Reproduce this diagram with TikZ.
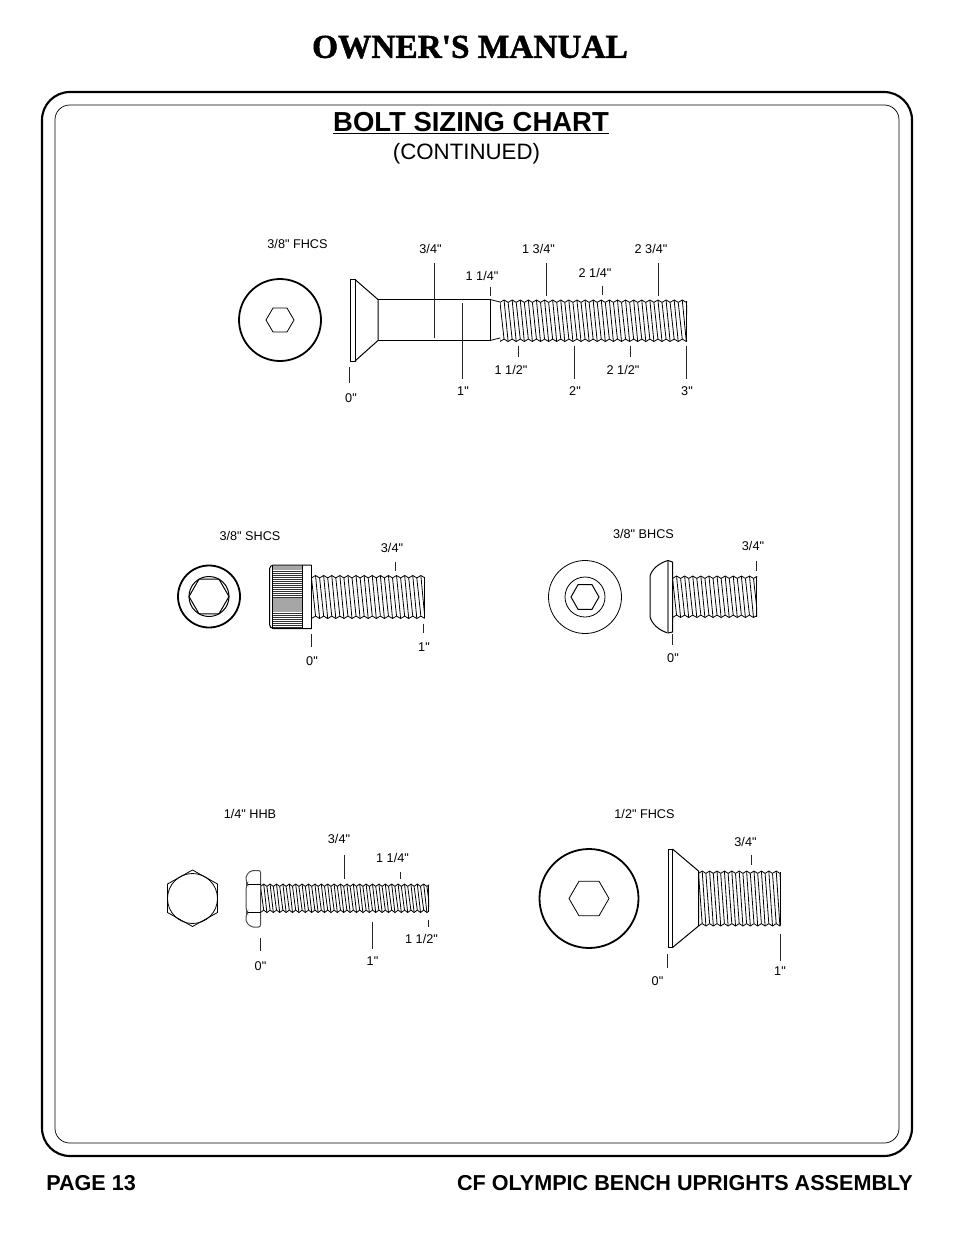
\documentclass[tikz,border=0pt]{standalone}
\usepackage{fontspec}
\setmainfont{Liberation Sans}[Ligatures=TeXOff]
\newfontfamily\ownerfont{Liberation Serif}[Ligatures=TeXOff,FakeBold=1.4,UprightFont={* Bold}]
\usetikzlibrary{calc,positioning}
\tikzset{lbl/.style={inner sep=0pt, text=black, yshift=-0.4pt, font=\fontsize{9.5}{11}\selectfont}, tick/.style={line width=0.8pt, black!85}, part/.style={line width=0.75pt, black}, rim/.style={line width=1.35pt, black}, thin part/.style={line width=0.6pt, black}, heading/.style={inner sep=0pt, text=black}}
% name, x, from y, to y, label x, label y, label
\newcommand{\gauge}[7]{
    \node[lbl] (#1) at (#5,#6) {#7};
    \coordinate (#1a) at (#2,#3);
    \coordinate (#1b) at (#2,#4);
    \draw[tick] (#1a) -- (#1b);
}
% centre x, centre y, half width, half height
\newcommand{\hexhole}[5][thin part]{
    \draw[#1] ({#2+#4},#3) -- ({#2+#4/2},{#3-#5}) -- ({#2-#4/2},{#3-#5}) -- ({#2-#4},#3) -- ({#2-#4/2},{#3+#5}) -- ({#2+#4/2},{#3+#5}) -- cycle;
}
% from x, to x, top y, bottom y, pitch
\newcommand{\threads}[5]{
    \begin{scope}
        \clip (#1,#3-1) rectangle (#2+0.5,#4+1);
        \pgfmathtruncatemacro{\threadn}{(#2-#1)/#5+1}
        \foreach \k in {-1,...,\threadn}{
            \pgfmathsetmacro{\xa}{#1+\k*#5}
            \pgfmathsetmacro{\xm}{\xa+#5/2}
            \pgfmathsetmacro{\xb}{\xa+#5}
            \pgfmathsetmacro{\xc}{\xb+#5/2}
            \draw[thin part,line join=round] (\xa,#3+2.4) -- (\xm,#3) -- (\xb,#3+2.4);
            \draw[thin part,line join=round] (\xm,#4-2.4) -- (\xb,#4) -- (\xc,#4-2.4);
            \draw[thin part] (\xm,#3) -- (\xb,#4);
            \draw[thin part] (\xb,#3+2.4) -- (\xc,#4-2.4);
        }
    \end{scope}
    \draw[thin part] (#2,#3+1) -- (#2,#4-1);
}

\begin{document}
\begin{tikzpicture}[x=0.75pt,y=-0.75pt]
    \useasboundingbox (0,0) rectangle (954,1235);
    % page furniture
    \node[heading,font=\ownerfont\fontsize{25}{28}\selectfont] (manual) at (470,47) {OWNER'S MANUAL};
    \draw[line width=1.6pt, rounded corners=21pt] (42,92) rectangle (912,1156);
    \draw[line width=0.55pt, rounded corners=11pt] (55,105) rectangle (899,1143);
    \node[heading,font=\bfseries\fontsize{20.6}{24}\selectfont] (chart) at (471,123.5) {\underline{BOLT SIZING CHART}};
    \node[heading,font=\fontsize{16.7}{20}\selectfont] (cont) at (466.5,154) {(CONTINUED)};
    \node[heading,font=\bfseries\fontsize{16.2}{19}\selectfont,anchor=west] (page) at (46,1183.5) {PAGE 13};
    \node[heading,font=\bfseries\fontsize{16.2}{19}\selectfont,anchor=east] (assy) at (913,1183.5) {CF OLYMPIC BENCH UPRIGHTS ASSEMBLY};

    % 3/8 FHCS
    \node[lbl] (fhcsA) at (297.5,243.5) {3/8" FHCS};
    \draw[rim] (280,320) circle (41);
    \hexhole{280}{320}{14}{12}
    \threads{500}{686.5}{300}{341.5}{8.1}
    \draw[part] (350,279.5) rectangle (355,361);
    \draw[part] (355,279.5) -- (378,299.5) -- (378,340.5) -- (355,361);
    \draw[part] (378,299.5) -- (490,299.5) -- (490,340.5) -- (378,340.5);
    \draw[thin part] (490,299.5) -- (500,302) (490,340.5) -- (500,338);
    \gauge{fa}{349.5}{367}{382.5}{351}{398}{0"}
    \gauge{fb}{434.5}{263}{338}{430.5}{248.5}{3/4"}
    \gauge{fc}{462.5}{303}{379}{463}{391}{1"}
    \gauge{fd}{490.5}{286.5}{296}{482}{275.5}{1 1/4"}
    \gauge{fe}{518.5}{346}{357}{511}{369}{1 1/2"}
    \gauge{ff}{546.5}{263}{295.5}{538.5}{248.5}{1 3/4"}
    \gauge{fg}{574.5}{346}{379}{575}{391}{2"}
    \gauge{fh}{602.5}{285.5}{295}{595}{272.5}{2 1/4"}
    \gauge{fi}{630.5}{346}{357}{623}{369}{2 1/2"}
    \gauge{fj}{658.5}{263}{295.5}{651}{248.5}{2 3/4"}
    \gauge{fk}{686.5}{346}{379}{687}{391}{3"}

    % 3/8 SHCS
    \node[lbl] (shcs) at (250,535.5) {3/8" SHCS};
    \draw[rim] (209,596.5) circle (31);
    \draw[part] (209,596.5) circle (20);
    \hexhole[part]{209}{596.5}{20}{17.3}
    \threads{311.5}{424}{575.5}{618.5}{8.1}
    \fill[black!35] (272,566) rectangle (302,570);
    \fill[black!35] (272,598) rectangle (302,612);
    \foreach \ky in {571,573,...,597}{\draw[line width=0.45pt, black!80] (272,\ky) -- (302,\ky);}
    \foreach \ky in {613,615,...,627}{\draw[line width=0.45pt, black!80] (272,\ky) -- (302,\ky);}
    \draw[part,rounded corners=3pt] (311.5,565) -- (269.5,565) -- (269.5,628.5) -- (311.5,628.5);
    \draw[part] (311.5,565) -- (311.5,628.5);
    \draw[thin part] (272,565) -- (272,628.5) (302,565) -- (302,628.5);
    \gauge{sa}{311.5}{634}{647}{312}{660.5}{0"}
    \gauge{sb}{395.5}{561.5}{570.5}{392}{547.5}{3/4"}
    \gauge{sc}{423.5}{623.5}{632.5}{424}{646.5}{1"}

    % 3/8 BHCS
    \node[lbl] (bhcs) at (643.5,533.5) {3/8" BHCS};
    \draw[thin part] (585,597) circle (36.5);
    \draw[thin part] (585,597) circle (20);
    \hexhole[part]{585}{597}{14}{12.3}
    \threads{672.5}{756.5}{576}{617.5}{8.1}
    \draw[part] (668,560.5) .. controls (659,563) and (652,569) .. (650,576) -- (650,617) .. controls (652,624) and (659,630.5) .. (668,633);
    \draw[line width=1pt, black!50] (668,560.5) -- (668,633);
    \draw[part] (668,560.5) -- (672.5,562) -- (672.5,632) -- (668,633);
    \gauge{ba}{672.5}{634}{645}{673}{657.5}{0"}
    \gauge{bb}{756.5}{560.5}{570.5}{753}{545.5}{3/4"}

    % 1/4 HHB
    \node[lbl] (hhb) at (250,813.5) {1/4" HHB};
    \draw[thin part] (192.5,898.5) circle (25);
    \draw[thin part] (192.5,870) -- (217.5,884) -- (217.5,912.5) -- (192.5,926.5) -- (167.5,912.5) -- (167.5,884) -- cycle;
    \threads{260.5}{428.5}{884}{912.5}{6.4}
    \draw[part,black!70,rounded corners=1.5pt] (260.5,870.5) -- (251,870.5) -- (246,875.5) -- (246,881) -- (247.5,884) -- (246,887) -- (246,909.5) -- (247.5,912.5) -- (246,915.5) -- (246,922) -- (251,927) -- (260.5,927) -- cycle;
    \draw[thin part] (260.5,884) -- (247.5,884) (260.5,912.5) -- (247.5,912.5);
    \gauge{ha}{260.5}{938}{950.5}{260.5}{965.5}{0"}
    \gauge{hb}{344.5}{854.5}{878.5}{339}{838.5}{3/4"}
    \gauge{hc}{372.5}{921.5}{949}{372.5}{960.5}{1"}
    \gauge{hd}{400.5}{871.5}{879}{392.5}{857.5}{1 1/4"}
    \gauge{he}{428.5}{919.5}{927}{421.5}{938.5}{1 1/2"}

    % 1/2 FHCS
    \node[lbl] (fhcsB) at (644.5,813.5) {1/2" FHCS};
    \draw[rim] (589,898.5) circle (49.5);
    \hexhole{589}{898.5}{20}{17.3}
    \threads{698.5}{780}{871}{926}{7.4}
    \draw[part] (668,849) rectangle (672.5,947.5);
    \draw[part] (672.5,849) -- (698.5,871) -- (698.5,926) -- (672.5,947.5);
    \gauge{ga}{667.5}{954}{967.5}{657.5}{980.5}{0"}
    \gauge{gb}{751.5}{854.5}{865}{745.5}{841}{3/4"}
    \gauge{gc}{780.5}{933.5}{961}{780}{971}{1"}
\end{tikzpicture}
\end{document}
